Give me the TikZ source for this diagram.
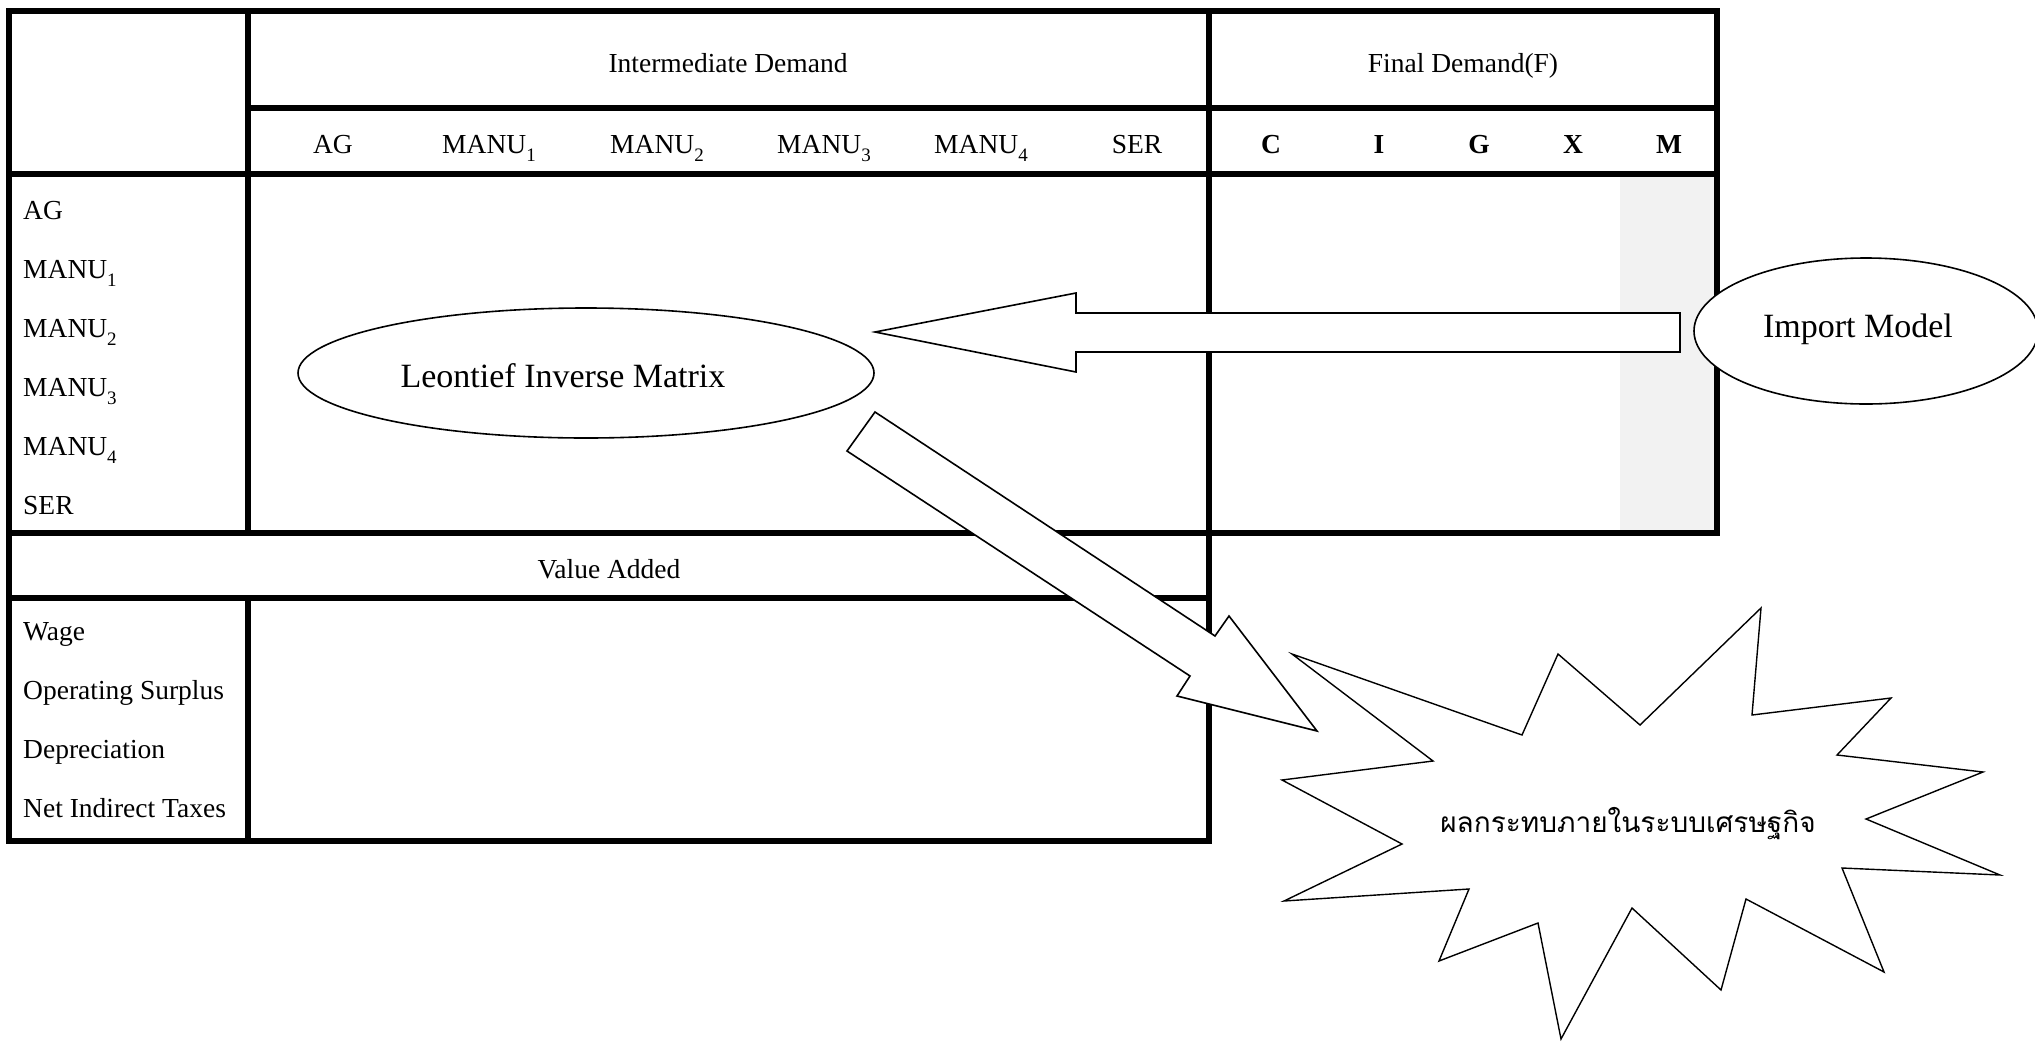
\documentclass[tikz,border=0pt]{standalone}
\usepackage{fontspec}
\setmainfont{Liberation Serif}
\newfontfamily\thaifont[Script=Thai]{Loma}
\usetikzlibrary{shapes.geometric}
\definecolor{mgray}{HTML}{F2F2F2}
\newcommand{\mysub}[1]{\raisebox{-8.5pt}{\fontsize{19}{19}\selectfont #1}}
\begin{document}
\begin{tikzpicture}[x=1pt,y=-1pt,
  tline/.style={line width=6pt,line cap=rect},
  lbl/.style={font=\fontsize{27.5}{30}\selectfont,inner sep=0pt},
  blbl/.style={font=\fontsize{27.5}{30}\selectfont\bfseries,inner sep=0pt},
  big/.style={font=\fontsize{34}{38}\selectfont,inner sep=0pt},
  oval/.style={draw,ellipse,fill=white,line width=1.6pt,inner sep=0pt},
  blockarrow/.style={draw,fill=white,line width=1.6pt,line join=miter},
  burst/.style={draw,fill=white,line width=1.4pt,line join=miter}]
\useasboundingbox (0,0) rectangle (2035,1042);
% gray import column
\fill[mgray] (1620,174) rectangle (1717,533);
% table grid
\draw[tline] (9,11) -- (1717,11);
\draw[tline] (248,108) -- (1717,108);
\draw[tline] (9,174) -- (1717,174);
\draw[tline] (9,533) -- (1717,533);
\draw[tline] (9,598) -- (1209,598);
\draw[tline] (9,841) -- (1209,841);
\draw[tline] (9,11) -- (9,841);
\draw[tline] (248,11) -- (248,533);
\draw[tline] (248,598) -- (248,841);
\draw[tline] (1209,11) -- (1209,841);
\draw[tline] (1717,11) -- (1717,533);
% headers
\node[lbl,anchor=base] (hInter) at (728,72) {Intermediate Demand};
\node[lbl,anchor=base] (hFinal) at (1463,72) {Final Demand(F)};
\node[lbl,anchor=base] (cAG) at (333,153) {AG};
\node[lbl,anchor=base] (cM1) at (489,153) {MANU\mysub{1}};
\node[lbl,anchor=base] (cM2) at (657,153) {MANU\mysub{2}};
\node[lbl,anchor=base] (cM3) at (824,153) {MANU\mysub{3}};
\node[lbl,anchor=base] (cM4) at (981,153) {MANU\mysub{4}};
\node[lbl,anchor=base] (cSER) at (1137,153) {SER};
\node[blbl,anchor=base] (cC) at (1271,153) {C};
\node[blbl,anchor=base] (cI) at (1379,153) {I};
\node[blbl,anchor=base] (cG) at (1479,153) {G};
\node[blbl,anchor=base] (cX) at (1573,153) {X};
\node[blbl,anchor=base] (cMM) at (1669,153) {M};
% row labels
\node[lbl,anchor=base west] (rAG) at (23,219) {AG};
\node[lbl,anchor=base west] (rM1) at (23,278) {MANU\mysub{1}};
\node[lbl,anchor=base west] (rM2) at (23,337) {MANU\mysub{2}};
\node[lbl,anchor=base west] (rM3) at (23,396) {MANU\mysub{3}};
\node[lbl,anchor=base west] (rM4) at (23,455) {MANU\mysub{4}};
\node[lbl,anchor=base west] (rSER) at (23,514) {SER};
\node[lbl,anchor=base] (va) at (609,578) {Value Added};
\node[lbl,anchor=base west] (rW) at (23,640) {Wage};
\node[lbl,anchor=base west] (rOS) at (23,699) {Operating Surplus};
\node[lbl,anchor=base west] (rD) at (23,758) {Depreciation};
\node[lbl,anchor=base west] (rT) at (23,817) {Net Indirect Taxes};
% block arrows
\draw[blockarrow] (875,332) -- (1076,293) -- (1076,313) -- (1680,313) -- (1680,352) -- (1076,352) -- (1076,372) -- cycle;
\draw[blockarrow] (875,412) -- (1215,636) -- (1229,616) -- (1317,731) -- (1177,696) -- (1190,676) -- (847,451) -- cycle;
% ellipses
\node[oval,minimum width=576pt,minimum height=130pt] (leon) at (586,373) {};
\node[big,anchor=base] (leonT) at (563,387) {Leontief Inverse Matrix};
\node[oval,minimum width=344pt,minimum height=146pt] (imp) at (1866,331) {};
\node[big,anchor=base] (impT) at (1858,337) {Import Model};
% starburst
\draw[burst] (1292,654) -- (1522,735) -- (1558,654) -- (1640,725) -- (1761,608) -- (1752,715)
  -- (1891,698) -- (1837,755) -- (1983,772) -- (1866,819) -- (2000,875) -- (1842,868)
  -- (1884,972) -- (1746,899) -- (1721,990) -- (1632,908) -- (1561,1039) -- (1538,923)
  -- (1439,961) -- (1469,889) -- (1284,901) -- (1402,844) -- (1282,780) -- (1433,761) -- cycle;
\node[inner sep=0pt,font=\thaifont\fontsize{28}{32}\selectfont] (impact) at (1628,824) {ผลกระทบภายในระบบเศรษฐกิจ};
\end{tikzpicture}
\end{document}
